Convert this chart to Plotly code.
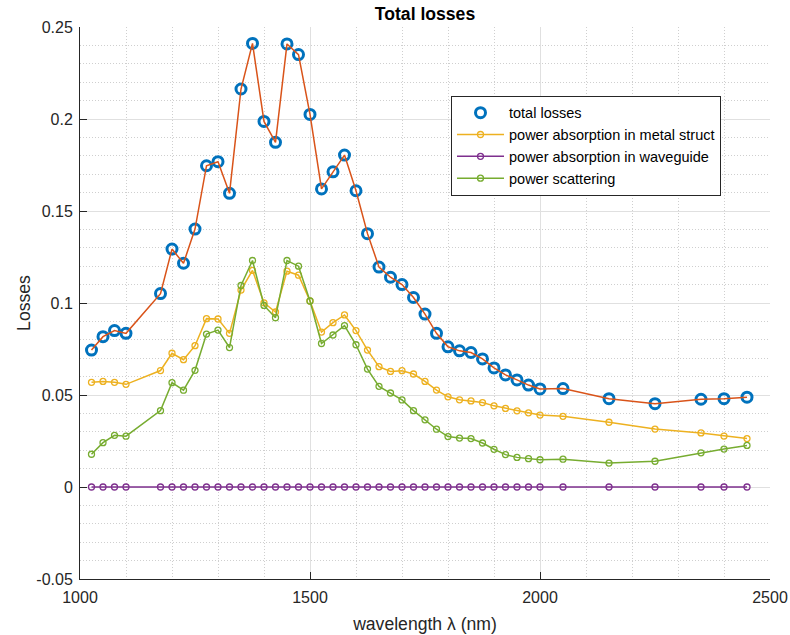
import plotly.graph_objects as go

# Wavelength samples (nm)
wavelength = [1025, 1050, 1075, 1100,
              1175, 1200, 1225, 1250, 1275, 1300, 1325, 1350, 1375, 1400,
              1425, 1450, 1475, 1500, 1525, 1550, 1575, 1600, 1625, 1650,
              1675, 1700, 1725, 1750, 1775, 1800, 1825, 1850, 1875, 1900,
              1925, 1950, 1975, 2000,
              2050, 2150, 2250, 2350, 2400, 2450]

total_losses = [0.0744, 0.0817, 0.0850, 0.0835,
                0.1051, 0.1293, 0.1216, 0.1402, 0.1746, 0.1768, 0.1596, 0.2163, 0.2411, 0.1987,
                0.1873, 0.2408, 0.2350, 0.2025, 0.1620, 0.1713, 0.1804, 0.1610, 0.1377, 0.1195,
                0.1140, 0.1100, 0.1030, 0.0940, 0.0835, 0.0762, 0.0740, 0.0731, 0.0696, 0.0647,
                0.0609, 0.0582, 0.0554, 0.0533,
                0.0535, 0.0480, 0.0453, 0.0477, 0.0480, 0.0488]

absorption_metal = [0.0569, 0.0574, 0.0569, 0.0558,
                    0.0633, 0.0727, 0.0692, 0.0768, 0.0915, 0.0913, 0.0835, 0.1070, 0.1177, 0.1001,
                    0.0951, 0.1173, 0.1151, 0.1011, 0.0842, 0.0893, 0.0935, 0.0850, 0.0744, 0.0654,
                    0.0628, 0.0632, 0.0614, 0.0574, 0.0527, 0.0490, 0.0474, 0.0468, 0.0459, 0.0441,
                    0.0427, 0.0414, 0.0403, 0.0391,
                    0.0384, 0.0352, 0.0315, 0.0294, 0.0277, 0.0263]

absorption_waveguide = [0.0, 0.0, 0.0, 0.0,
                        0.0, 0.0, 0.0, 0.0, 0.0, 0.0, 0.0, 0.0, 0.0, 0.0,
                        0.0, 0.0, 0.0, 0.0, 0.0, 0.0, 0.0, 0.0, 0.0, 0.0,
                        0.0, 0.0, 0.0, 0.0, 0.0, 0.0, 0.0, 0.0, 0.0, 0.0,
                        0.0, 0.0, 0.0, 0.0,
                        0.0, 0.0, 0.0, 0.0, 0.0, 0.0]

scattering = [0.0178, 0.0241, 0.0281, 0.0276,
              0.0415, 0.0567, 0.0526, 0.0634, 0.0831, 0.0853, 0.0758, 0.1095, 0.1231, 0.0987,
              0.0920, 0.1231, 0.1200, 0.1011, 0.0780, 0.0826, 0.0877, 0.0773, 0.0641, 0.0547,
              0.0511, 0.0473, 0.0415, 0.0365, 0.0314, 0.0274, 0.0266, 0.0263, 0.0239, 0.0205,
              0.0176, 0.0161, 0.0154, 0.0148,
              0.0151, 0.0130, 0.0140, 0.0186, 0.0206, 0.0226]

x_ticks = [1000, 1500, 2000, 2500]
x_tick_labels = ["1000", "1500", "2000", "2500"]
y_ticks = [-0.05, 0, 0.05, 0.1, 0.15, 0.2, 0.25]
y_tick_labels = ["-0.05", "0", "0.05", "0.1", "0.15", "0.2", "0.25"]

BLUE = "#0072BD"
ORANGE = "#D95319"
YELLOW = "#EDB120"
PURPLE = "#7E2F8E"
GREEN = "#77AC30"
INK = "#262626"
FONT = "Liberation Sans, Arial, sans-serif"

fig = go.Figure()

fig.add_trace(go.Scatter(
    x=wavelength, y=total_losses, mode="markers", name="total losses",
    marker=dict(symbol="circle-open", size=10, color=BLUE, line=dict(width=3, color=BLUE)),
))
fig.add_trace(go.Scatter(
    x=wavelength, y=total_losses, mode="lines", showlegend=False,
    line=dict(color=ORANGE, width=1.5),
))
for values, label, color in [
    (absorption_metal, "power absorption in metal struct", YELLOW),
    (absorption_waveguide, "power absorption in waveguide", PURPLE),
    (scattering, "power scattering", GREEN),
]:
    fig.add_trace(go.Scatter(
        x=wavelength, y=values, mode="lines+markers", name=label,
        line=dict(color=color, width=1.5),
        marker=dict(symbol="circle-open", size=6, color=color, line=dict(width=1.3, color=color)),
    ))

fig.update_layout(
    width=790, height=635,
    margin=dict(l=80, r=20, t=27, b=56),
    paper_bgcolor="white", plot_bgcolor="white",
    font=dict(family=FONT, size=16, color=INK),
    title=dict(text="<b>Total losses</b>", x=0.5, xanchor="center", xref="paper",
               y=1 - 14 / 635, yanchor="middle", font=dict(size=17.6, color="black")),
    showlegend=True,
    legend=dict(
        x=(451 - 80) / 690, xanchor="left", y=(579.3 - 96) / 552, yanchor="top",
        bgcolor="white", bordercolor=INK, borderwidth=1,
        font=dict(size=14.5, color="black"), itemwidth=47, tracegroupgap=0,
    ),
)

fig.update_xaxes(
    range=[1000, 2500], tickvals=x_ticks, ticktext=x_tick_labels,
    showline=True, linecolor=INK, linewidth=1, mirror=False,
    ticks="inside", ticklen=7, tickcolor=INK, ticklabelstandoff=4,
    showgrid=True, gridcolor="#e0e0e0", gridwidth=1, zeroline=False,
    minor=dict(dtick=100, showgrid=True, gridcolor="#cfcfcf", griddash="1px,2px", ticks=""),
    title=dict(text="wavelength λ (nm)", font=dict(size=17.6), standoff=12),
    tickfont=dict(size=16), automargin=False,
)
fig.update_yaxes(
    range=[-0.05, 0.25], tickvals=y_ticks, ticktext=y_tick_labels,
    showline=True, linecolor=INK, linewidth=1, mirror=False,
    ticks="inside", ticklen=7, tickcolor=INK, ticklabelstandoff=3,
    showgrid=True, gridcolor="#e0e0e0", gridwidth=1, zeroline=False,
    minor=dict(dtick=0.01, showgrid=True, gridcolor="#cfcfcf", griddash="1px,2px", ticks=""),
    title=dict(text="Losses", font=dict(size=17.6), standoff=1),
    tickfont=dict(size=16), automargin=False,
)

fig.write_html("out.html")
